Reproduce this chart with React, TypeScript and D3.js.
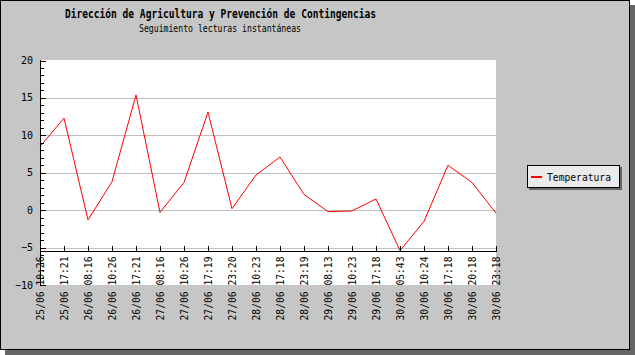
import React from "react";
import * as d3 from "d3";

const categories = [
  "25/06 10:26", "25/06 17:21", "26/06 08:16", "26/06 10:26", "26/06 17:21",
  "27/06 08:16", "27/06 10:26", "27/06 17:19", "27/06 23:20", "28/06 10:23",
  "28/06 17:18", "28/06 23:19", "29/06 08:13", "29/06 10:23", "29/06 17:18",
  "30/06 05:43", "30/06 10:24", "30/06 17:18", "30/06 20:18", "30/06 23:18",
];
const temperatura = [
  8.5, 12.3, -1.3, 3.8, 15.4, -0.3, 3.7, 13.1, 0.2, 4.7,
  7.1, 2.1, -0.2, -0.1, 1.5, -5.4, -1.5, 6.0, 3.7, -0.4,
];
const yMajorTicks = [-10, -5, 0, 5, 10, 15, 20];
const yDomain = [-10, 20];
const seriesName = "Temperatura";
const title = "Dirección de Agricultura y Prevención de Contingencias";
const subtitle = "Seguimiento lecturas instantáneas";

const W = 635;
const H = 355;
const plot = { left: 40, right: 496, top: 60.5, bottom: 285 };
const MONO = "'DejaVu Sans Mono', 'Liberation Mono', monospace";

export default function App() {
  const x = d3
    .scalePoint<string>()
    .domain(categories)
    .range([plot.left, plot.right]);
  const y = d3.scaleLinear().domain(yDomain).range([plot.bottom, plot.top]);
  const minorTicks = d3.range(yDomain[0], yDomain[1] + 1, 1);
  const axisY = Math.round(y(d3.min(temperatura) as number)) + 0.5;
  const line = d3
    .line<number>()
    .x((_, i) => x(categories[i]) as number)
    .y((d) => y(d));

  return (
    <svg
      width={W}
      height={H}
      style={{ position: "absolute", left: 0, top: 0, display: "block" }}
    >
      {/* frame shadow */}
      <rect x={5} y={5} width={630} height={350} fill="#666666" />
      <rect x={0.5} y={0.5} width={629} height={349} fill="#C6C6C6" stroke="#000" />

      {/* titles */}
      <text
        x={65}
        y={17.5}
        textLength={311}
        lengthAdjust="spacingAndGlyphs"
        fontFamily={MONO}
        fontWeight="bold"
        fontSize={11.5}
        fill="#000"
      >
        {title}
      </text>
      <text
        x={139}
        y={32}
        textLength={162}
        lengthAdjust="spacingAndGlyphs"
        fontFamily={MONO}
        fontSize={10}
        fill="#000"
      >
        {subtitle}
      </text>

      {/* plot area */}
      <rect
        x={plot.left}
        y={60}
        width={plot.right - plot.left}
        height={plot.bottom - 60}
        fill="#fff"
      />

      {/* grid */}
      <g shapeRendering="crispEdges">
        {yMajorTicks
          .filter((t) => t !== yDomain[1] && t !== yDomain[0])
          .map((t) => (
            <line
              key={"g" + t}
              x1={plot.left}
              x2={plot.right}
              y1={Math.round(y(t)) + 0.5}
              y2={Math.round(y(t)) + 0.5}
              stroke="#C0C0C0"
            />
          ))}
      </g>

      {/* series */}
      <path d={line(temperatura) || ""} fill="none" stroke="#FF0000" strokeWidth={1} />

      {/* y axis */}
      <g shapeRendering="crispEdges">
        <line x1={40.5} x2={40.5} y1={60} y2={plot.bottom + 1} stroke="#000" />
        {minorTicks.map((t) => {
          const major = yMajorTicks.includes(t);
          const yy = Math.round(y(t)) + 0.5;
          return (
            <line
              key={"t" + t}
              x1={40}
              x2={major ? 46 : 44}
              y1={yy}
              y2={yy}
              stroke="#000"
            />
          );
        })}
      </g>
      {yMajorTicks.map((t) => (
        <text
          key={"l" + t}
          x={33}
          y={y(t)}
          dy="0.35em"
          textAnchor="end"
          fontFamily={MONO}
          fontSize={10}
          fill="#000"
        >
          {t < 0 ? "\u2212" + Math.abs(t) : String(t)}
        </text>
      ))}

      {/* x axis */}
      <g shapeRendering="crispEdges">
        <line x1={plot.left} x2={plot.right + 1} y1={axisY} y2={axisY} stroke="#000" />
        {categories.map((c) => {
          const xx = Math.round(x(c) as number) + 0.5;
          return (
            <line key={"xt" + c} x1={xx} x2={xx} y1={axisY} y2={axisY - 6} stroke="#000" />
          );
        })}
      </g>
      {categories.map((c) => {
        const xx = x(c) as number;
        return (
          <text
            key={"xl" + c}
            transform={`translate(${xx + 4},${axisY + 5}) rotate(-90)`}
            textAnchor="end"
            textLength={64}
            lengthAdjust="spacingAndGlyphs"
            fontFamily={MONO}
            fontSize={10}
            fill="#000"
          >
            {c}
          </text>
        );
      })}

      {/* legend */}
      <rect x={529} y={167} width={93} height={23} fill="#666666" />
      <rect x={527.5} y={165.5} width={92} height={22} fill="#EBEBEB" stroke="#000" />
      <line x1={531} x2={542} y1={177} y2={177} stroke="#FF0000" strokeWidth={2} />
      <text
        x={547}
        y={177}
        dy="0.35em"
        textLength={64}
        lengthAdjust="spacingAndGlyphs"
        fontFamily={MONO}
        fontSize={10}
        fill="#000"
      >
        {seriesName}
      </text>
    </svg>
  );
}
